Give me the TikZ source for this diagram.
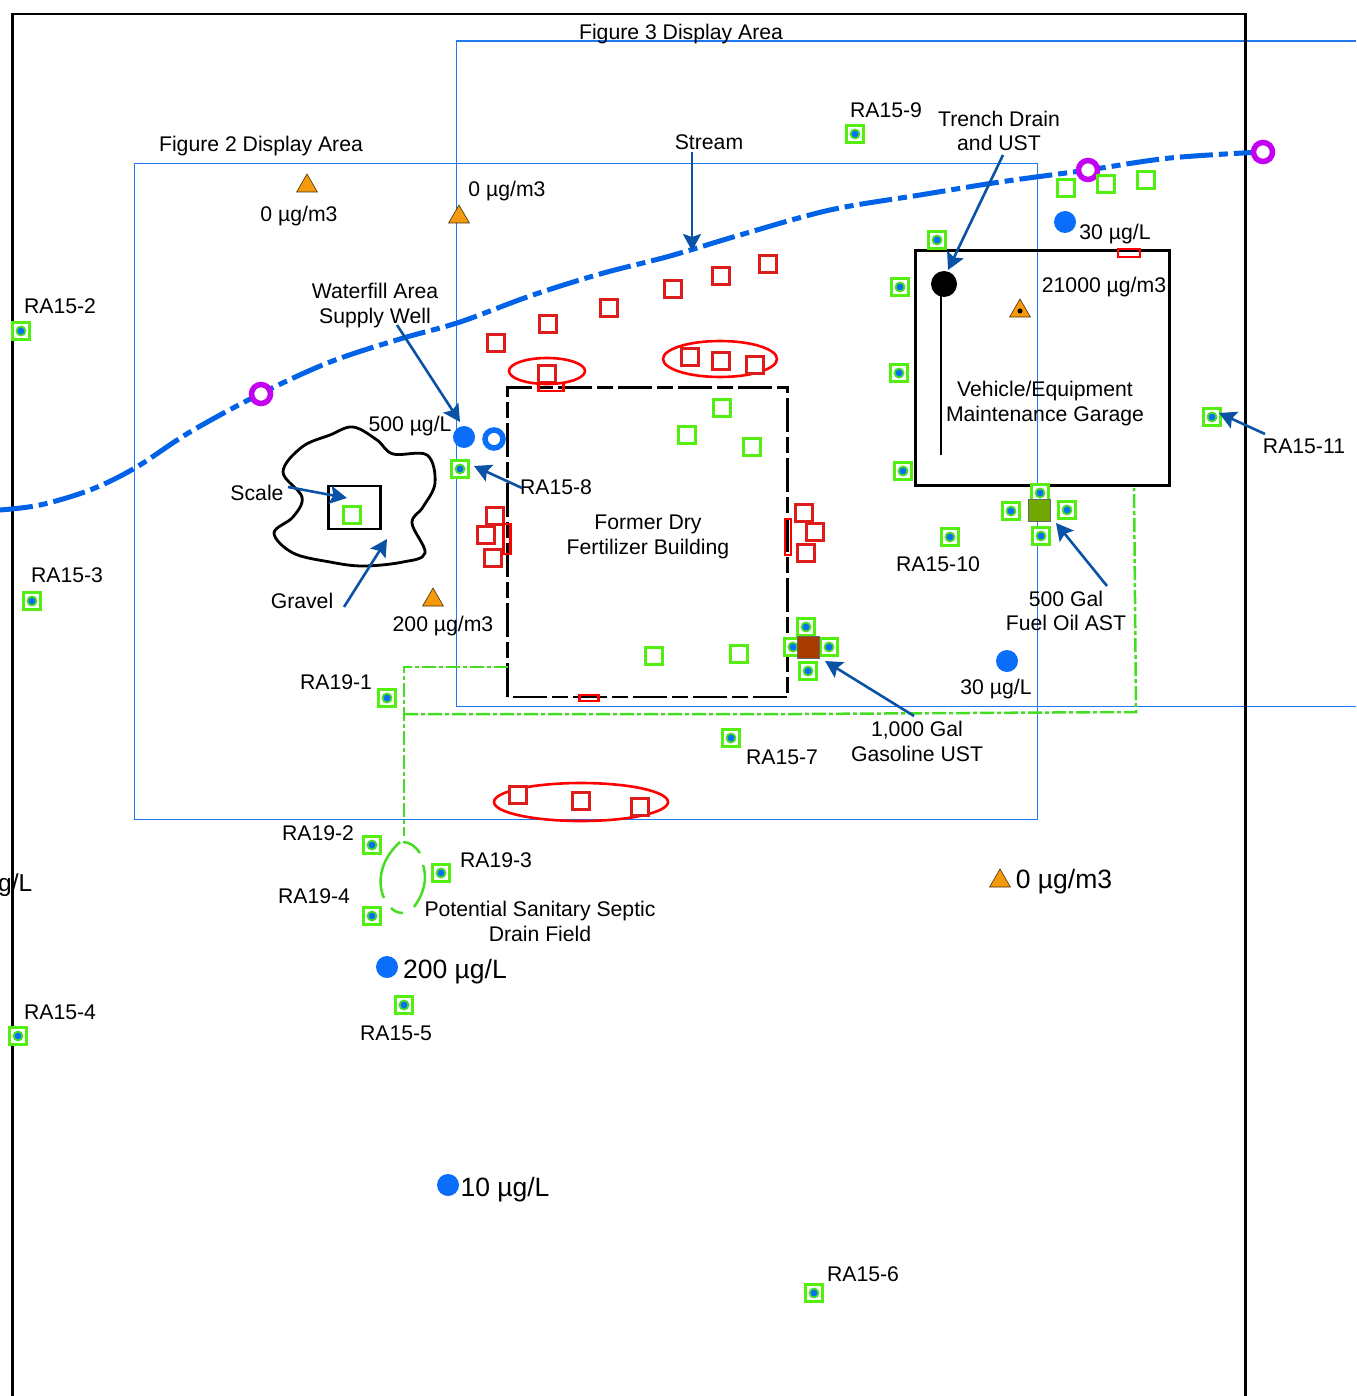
\documentclass[tikz,border=0pt]{standalone}
\usepackage{fontspec}
\setmainfont{Liberation Sans}
\usetikzlibrary{arrows.meta,shapes.geometric,calc}
\definecolor{figblue}{HTML}{1F78F0}
\definecolor{streamblue}{HTML}{0062E6}
\definecolor{dotblue}{HTML}{0A6EFA}
\definecolor{arrowblue}{HTML}{0A52A5}
\definecolor{wellgreen}{HTML}{55EE11}
\definecolor{lngreen}{HTML}{44DD22}
\definecolor{redsq}{HTML}{DD1C1C}
\definecolor{ringpurple}{HTML}{C400F0}
\definecolor{triorange}{HTML}{F59A0C}
\definecolor{astgreen}{HTML}{70A800}
\definecolor{ustbrown}{HTML}{A83C00}
\tikzset{
 x=1pt,y=-1pt,
 lbl/.style={font=\fontsize{21.2}{21.2}\selectfont,inner sep=0pt,text=black,align=center},
 biglbl/.style={font=\fontsize{26.5}{26.5}\selectfont,inner sep=0pt,text=black},
 wellbox/.style={draw=wellgreen,line width=3.6pt,fill=white,minimum size=17pt,inner sep=0pt,shape=rectangle},
 welldot/.style={circle,draw=lngreen,line width=1.8pt,fill=dotblue,minimum size=9pt,inner sep=0pt},
 sq/.style={draw=redsq,line width=2.8pt,fill=white,minimum size=17pt,inner sep=0pt,shape=rectangle},
 thinrect/.style={draw=red,line width=2.6pt,inner sep=0pt,shape=rectangle},
 redell/.style={draw=red,line width=2.6pt},
 bluedot/.style={circle,fill=dotblue,minimum size=22pt,inner sep=0pt},
 ring/.style={circle,draw=ringpurple,line width=5.5pt,fill=white,minimum size=19pt,inner sep=0pt},
 tri/.style={regular polygon,regular polygon sides=3,fill=triorange,draw=black!70!triorange,line width=.6pt,minimum size=24pt,inner sep=0pt},
 callout/.style={draw=arrowblue,line width=2.6pt,-{Stealth[length=17pt,width=18pt,inset=3pt]}},
 figline/.style={draw=figblue,line width=1.1pt},
 greenline/.style={draw=lngreen,line width=2.5pt},
 stream/.style={draw=streamblue,line width=5pt,dash pattern=on 33pt off 6pt on 9pt off 6pt},
}
\newcommand{\wellat}[2]{\node[wellbox] (#1) at (#2) {}; \node[welldot] at (#2) {};}
\newcommand{\emptywell}[2]{\node[wellbox] (#1) at (#2) {};}
\newcommand{\sqat}[2]{\node[sq] (#1) at (#2) {};}
\begin{document}
\begin{tikzpicture}
\useasboundingbox (0,0) rectangle (1356,1396);
% figure areas
\draw[figline] (1356,41) -- (456.5,41) -- (456.5,706.5) -- (1356,706.5);
\draw[figline] (134.5,163.5) rectangle (1037.5,819.5);
% outer frame
\draw[line width=2.8pt] (12.5,1396) -- (12.5,14) -- (1245.5,14) -- (1245.5,1396);
% stream
\draw[stream] plot[smooth,tension=.55] coordinates {(0,510) (40,505) (90,490) (135,468) (190,432) (260,394) (330,362) (400,339) (460,322) (530,296) (600,274) (670,256) (740,235) (830,210) (920,195) (1000,182) (1088,170) (1170,158) (1262,152)};
\node[ring] (r1) at (261,394) {};
\node[ring] (r2) at (1088,170) {};
\node[ring] (r3) at (1263,152) {};
% buildings
\draw[line width=2.8pt,dash pattern=on 34pt off 5pt on 16pt off 5pt] (507.5,697) -- (507.5,387.5) -- (787.5,387.5) -- (787.5,697) -- cycle;
\node[draw,line width=2.8pt,minimum width=254pt,minimum height=235pt,inner sep=0pt] (garage) at (1042.5,368) {};
\node[circle,fill=black,minimum size=26pt,inner sep=0pt] (tank) at (944,284) {};
\coordinate (drainend) at (941,455);
\draw[line width=2.8pt] (tank.center -| drainend) -- (drainend);
% scale / gravel
\draw[line width=2.8pt] plot[smooth cycle,tension=.6] coordinates {(353,427) (330,435) (302,447) (283,472) (302,497) (293,517) (274,533) (293,553) (330,562) (363,566) (403,562) (425,553) (412,523) (423,507) (435,483) (427,455) (393,454) (377,440)};
\node[draw,line width=2.8pt,minimum width=52pt,minimum height=43pt,inner sep=0pt] (scalebox) at (354.5,507.5) {};
% green dash-dot lines
\draw[greenline,dash pattern=on 14pt off 3pt on 4pt off 3pt] (508,667) -- (404,667) -- (404,836);
\draw[greenline,dash pattern=on 14pt off 3pt on 4pt off 3pt] (404,714) -- (800,714) -- (1136,712) -- (1134,488);
\draw[greenline] (403,842) .. controls (410,842) and (416,847) .. (420,853);
\draw[greenline] (423,865) .. controls (428,880) and (423,895) .. (414,907);
\draw[greenline] (403,913) .. controls (398,913) and (394,911) .. (391,908);
\draw[greenline] (384,898) .. controls (378,885) and (378,862) .. (400,842);
% red ellipses
\draw[redell] (547,371) ellipse[x radius=38,y radius=13];
\draw[redell] (720,359) ellipse[x radius=57,y radius=18];
\draw[redell] (581,802) ellipse[x radius=87,y radius=19];
% red squares
\sqat{s1}{496,343}\sqat{s2}{548,324}\sqat{s3}{609,308}\sqat{s4}{673,289}\sqat{s5}{721,276}\sqat{s6}{768,264}
\sqat{s7}{547,374}\sqat{s8}{690,357}\sqat{s9}{721,361}\sqat{s10}{755,365}
\sqat{s11}{495,516}\sqat{s13}{493,558}\sqat{s12}{486,535}
\sqat{s14}{804,513}\sqat{s15}{815,532}\sqat{s16}{806,553}
\sqat{s17}{518,795}\sqat{s18}{581,801}\sqat{s19}{640,807}
\node[thinrect,minimum width=25pt,minimum height=8pt] (t1) at (551,387) {};
\node[thinrect,minimum width=22pt,minimum height=8pt] (t2) at (1129,253) {};
\node[thinrect,minimum width=19pt,minimum height=6pt] (t3) at (589,698) {};
\node[thinrect,minimum width=7pt,minimum height=30pt] (t4) at (507,539) {};
\node[thinrect,minimum width=6pt,minimum height=36pt] (t5) at (788,537) {};
% empty wells
\emptywell{e1}{1066,188}\emptywell{e2}{1106,184}\emptywell{e3}{1146,180}
\emptywell{e4}{722,408}\emptywell{e5}{687,435}\emptywell{e6}{752,447}
\emptywell{e7}{654,656}\emptywell{e8}{739,654}\emptywell{e9}{352,515}
% wells
\wellat{w1}{855,134}\wellat{w2}{937,240}\wellat{w3}{900,287}\wellat{w4}{899,373}\wellat{w5}{903,471}
\wellat{w6}{21,331}\wellat{w7}{32,601}\wellat{w8}{18,1036}
\wellat{w9}{460,469}\wellat{w10}{387,698}\wellat{w11}{372,845}\wellat{w12}{441,873}\wellat{w13}{372,916}
\wellat{w14}{404,1005}\wellat{w15}{814,1293}\wellat{w16}{731,738}\wellat{w17}{950,537}\wellat{w18}{1212,417}
\wellat{a1}{1040,493}\wellat{a2}{1011,511}\wellat{a3}{1067,510}\wellat{a4}{1041,536}
\wellat{g1}{806,627}\wellat{g2}{793,647}\wellat{g3}{829,647}\wellat{g4}{808,671}
\node[fill=astgreen,draw=black!60,line width=.5pt,minimum size=22pt,inner sep=0pt] (ast) at (1039,510) {};
\node[fill=ustbrown,draw=black!60,line width=.5pt,minimum size=22pt,inner sep=0pt] (ust) at (808,647) {};
% blue dots
\node[bluedot] (d1) at (464,437) {};
\node[circle,draw=dotblue,line width=5.5pt,fill=white,minimum size=18pt,inner sep=0pt] (d2) at (494,439) {};
\node[bluedot] (d3) at (1065,222) {};
\node[bluedot] (d4) at (1007,661) {};
\node[bluedot] (d5) at (387,967) {};
\node[bluedot] (d6) at (448,1185) {};
% triangles
\node[tri] (tr1) at (307,186) {};
\node[tri] (tr2) at (459,217) {};
\node[tri] (tr3) at (433,600) {};
\node[tri] (tr4) at (1000,881) {};
\node[tri] (tr5) at (1020,311) {};
\node[circle,fill=black,minimum size=5pt,inner sep=0pt] (tr5d) at (1020,311) {};
% labels
\node[lbl] (figthree) at (681,34) {Figure 3 Display Area};
\node[lbl] (figtwo) at (261,146) {Figure 2 Display Area};
\node[lbl] (lstream) at (709,142.5) {Stream};
\node[lbl] at (886,110) {RA15-9};
\node[lbl] (ltrench) at (999,131) {Trench Drain\\[3pt]and UST};
\node[lbl] at (299,216) {0 µg/m3};
\node[lbl] at (507,191) {0 µg/m3};
\node[lbl] (lwater) at (375,305.5) {Waterfill Area\\[4.5pt]Supply Well};
\node[lbl] at (60,306) {RA15-2};
\node[lbl] at (1115,234) {30 µg/L};
\node[lbl] at (1104,287) {21000 µg/m3};
\node[lbl] at (1045,403.5) {Vehicle/Equipment\\[4pt]Maintenance Garage};
\node[lbl] (l11) at (1304,446) {RA15-11};
\node[lbl] at (648,537) {Former Dry\\[4pt]Fertilizer Building};
\node[lbl] at (410,426) {500 µg/L};
\node[lbl] (l8) at (556,487) {RA15-8};
\node[lbl] (lscale) at (257,493) {Scale};
\node[lbl] (lgravel) at (302,601) {Gravel};
\node[lbl] at (443,626) {200 µg/m3};
\node[lbl] at (67,575) {RA15-3};
\node[lbl] at (336,682) {RA19-1};
\node[lbl] (last) at (1066,611) {500 Gal\\[3pt]Fuel Oil AST};
\node[lbl] at (938,564) {RA15-10};
\node[lbl] at (996,689) {30 µg/L};
\node[lbl] (lust) at (917,741.5) {1,000 Gal\\[4pt]Gasoline UST};
\node[lbl] at (782,757) {RA15-7};
\node[lbl] at (318,833) {RA19-2};
\node[lbl] at (496,860) {RA19-3};
\node[lbl] at (314,896) {RA19-4};
\node[lbl] at (540,921.5) {Potential Sanitary Septic\\[4pt]Drain Field};
\node[biglbl] at (455,972) {200 µg/L};
\node[lbl] at (396,1033) {RA15-5};
\node[lbl] at (60,1012) {RA15-4};
\node[biglbl] at (1064,882) {0 µg/m3};
\node[biglbl] at (505,1190) {10 µg/L};
\node[lbl] at (863,1274) {RA15-6};
\node[biglbl,anchor=west,font=\fontsize{24.5}{24.5}\selectfont] at (-2,885) {g/L};
% callouts
\coordinate (cs) at (692,152); \coordinate (ce) at (692,251);
\draw[callout] (cs) -- (ce);
\coordinate (ts) at (1003,155); \coordinate (te) at (948,270);
\draw[callout] (ts) -- (te);
\coordinate (ws) at (397,325); \coordinate (we) at (460,422);
\draw[callout] (ws) -- (we);
\coordinate (es) at (522,488); \coordinate (ee) at (474,466);
\draw[callout] (es) -- (ee);
\coordinate (ss) at (288,487); \coordinate (se) at (347,498);
\draw[callout] (ss) -- (se);
\coordinate (gs) at (344,607); \coordinate (ge) at (387,539);
\draw[callout] (gs) -- (ge);
\coordinate (rs) at (1265,434); \coordinate (re) at (1219,413);
\draw[callout] (rs) -- (re);
\coordinate (as) at (1107,586); \coordinate (ae) at (1056,523);
\draw[callout] (as) -- (ae);
\coordinate (us) at (914,716); \coordinate (ue) at (825,661);
\draw[callout] (us) -- (ue);
\end{tikzpicture}
\end{document}
